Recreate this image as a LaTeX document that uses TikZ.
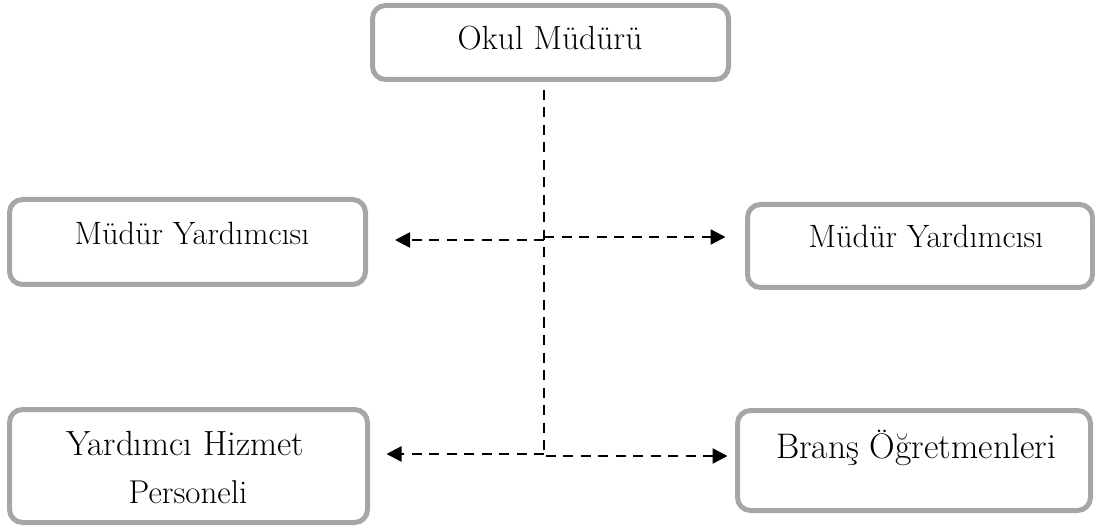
\documentclass[tikz,border=0pt]{standalone}
\usetikzlibrary{arrows.meta}
\definecolor{boxgray}{HTML}{A6A6A6}
\begin{document}
\begin{tikzpicture}[x=1pt,y=-1pt,
  box/.style={draw=boxgray, line width=5pt, rounded corners=13pt, inner sep=0pt, fill=white},
  lbl/.style={anchor=base, inner sep=0pt, text=black},
  conn/.style={line width=2.6pt, dash pattern=on 10pt off 7.5pt},
  tip/.style={-{Triangle[length=15pt,width=15pt]}}]
\useasboundingbox (0,0) rectangle (1095,529);
% boxes
\node[box, minimum width=356pt, minimum height=74pt] (top) at (550.5,42.5) {};
\node[box, minimum width=356pt, minimum height=85pt] (lm) at (187.5,242) {};
\node[box, minimum width=345pt, minimum height=83pt] (rm) at (920,246) {};
\node[box, minimum width=358pt, minimum height=113pt] (bl) at (188.5,466) {};
\node[box, minimum width=353pt, minimum height=100pt] (br) at (914,460.5) {};
% labels
\node[lbl] (ttop) at (550,50) {\fontsize{33.5}{40}\selectfont Okul Müdürü};
\node[lbl] (tlm) at (192,245) {\fontsize{32.3}{38}\selectfont Müdür Yardımcısı};
\node[lbl] (trm) at (926,248) {\fontsize{32.3}{38}\selectfont Müdür Yardımcısı};
\node[lbl] (tbl1) at (185,455) {\fontsize{35}{42}\selectfont Yardımcı Hizmet};
\node[lbl] (tbl2) at (188,503) {\fontsize{33}{40}\selectfont Personeli};
\node[lbl] (tbr) at (916,458) {\fontsize{35.5}{42}\selectfont Branş Öğretmenleri};
% connectors
\coordinate (jmid) at (544,240);
\coordinate (jmidr) at (544,237);
\coordinate (jbot) at (544,456);
\coordinate (jbotl) at (544,454);
\path ([yshift=-8pt]top.south) coordinate (vs);
\draw[conn, tip] (vs -| jbot) -- (jbot) -- ([xshift=-7.5pt]br.west |- jbot);
\draw[conn, tip] (jmid) -- ([xshift=27pt]lm.east |- jmid);
\draw[conn, tip] (jmidr) -- ([xshift=-19.5pt]rm.west |- jmidr);
\draw[conn, tip] (jbotl) -- ([xshift=16.5pt]bl.east |- jbotl);
\end{tikzpicture}
\end{document}
